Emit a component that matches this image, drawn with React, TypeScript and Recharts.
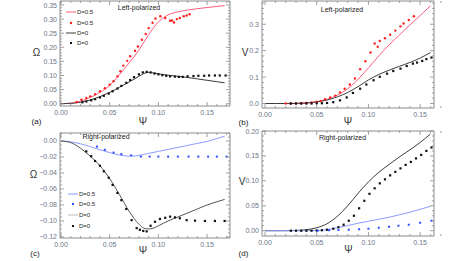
import React from "react";
import { ComposedChart, Line, Scatter, XAxis, YAxis } from "recharts";

// ---- data ----
// (a) Left-polarized, Omega vs Psi
const aRedLinePsi = [0, 0.01, 0.02, 0.03, 0.04, 0.05, 0.06, 0.07, 0.08, 0.09, 0.1, 0.11, 0.12, 0.13, 0.14, 0.15, 0.16, 0.168];
const aRedLineVal = [0, 0.002, 0.009, 0.022, 0.04, 0.065, 0.103, 0.145, 0.19, 0.245, 0.29, 0.315, 0.326, 0.332, 0.337, 0.341, 0.345, 0.348];
const aRedDotPsi = [0.016, 0.021, 0.026, 0.03, 0.035, 0.04, 0.045, 0.05, 0.054, 0.058, 0.061, 0.064, 0.068, 0.071, 0.076, 0.079, 0.083, 0.087, 0.09, 0.094, 0.097, 0.102, 0.107, 0.112, 0.114, 0.116, 0.119, 0.122, 0.126, 0.129, 0.132];
const aRedDotVal = [0.006, 0.014, 0.02, 0.026, 0.034, 0.044, 0.055, 0.067, 0.08, 0.097, 0.115, 0.135, 0.152, 0.168, 0.188, 0.203, 0.227, 0.247, 0.268, 0.287, 0.302, 0.31, 0.304, 0.294, 0.295, 0.288, 0.3, 0.304, 0.31, 0.313, 0.317];
const aBlackLinePsi = [0, 0.01, 0.02, 0.03, 0.04, 0.05, 0.06, 0.07, 0.08, 0.085, 0.09, 0.095, 0.1, 0.11, 0.12, 0.13, 0.14, 0.15, 0.16, 0.168];
const aBlackLineVal = [0, 0.001, 0.005, 0.013, 0.025, 0.04, 0.058, 0.077, 0.097, 0.107, 0.111, 0.109, 0.106, 0.101, 0.097, 0.093, 0.088, 0.083, 0.078, 0.074];
const aBlackDotPsi = [0.022, 0.026, 0.031, 0.035, 0.04, 0.044, 0.049, 0.053, 0.058, 0.062, 0.067, 0.071, 0.075, 0.08, 0.084, 0.088, 0.092, 0.096, 0.1, 0.104, 0.108, 0.112, 0.117, 0.121, 0.125, 0.13, 0.136, 0.141, 0.147, 0.152, 0.158, 0.163, 0.169];
const aBlackDotVal = [0.005, 0.008, 0.012, 0.016, 0.022, 0.028, 0.036, 0.044, 0.054, 0.063, 0.074, 0.084, 0.094, 0.104, 0.111, 0.113, 0.111, 0.107, 0.104, 0.101, 0.099, 0.097, 0.096, 0.095, 0.095, 0.097, 0.098, 0.099, 0.099, 0.1, 0.1, 0.1, 0.1];

// (b) Left-polarized, V vs Psi
const bRedLinePsi = [0.02, 0.03, 0.04, 0.05, 0.06, 0.07, 0.08, 0.09, 0.1, 0.11, 0.12, 0.13, 0.14, 0.15, 0.16];
const bRedLineVal = [0, 0.0005, 0.002, 0.007, 0.016, 0.032, 0.056, 0.092, 0.135, 0.18, 0.222, 0.26, 0.297, 0.333, 0.37];
const bRedDotPsi = [0.02, 0.025, 0.03, 0.035, 0.04, 0.045, 0.05, 0.054, 0.058, 0.063, 0.068, 0.0725, 0.077, 0.082, 0.087, 0.092, 0.097, 0.102, 0.106, 0.109, 0.111, 0.116, 0.121, 0.126, 0.131, 0.134, 0.139, 0.144];
const bRedDotVal = [0, 0, 0.0005, 0.001, 0.002, 0.004, 0.007, 0.01, 0.016, 0.023, 0.03, 0.042, 0.056, 0.072, 0.095, 0.13, 0.16, 0.193, 0.227, 0.215, 0.237, 0.247, 0.26, 0.276, 0.292, 0.303, 0.316, 0.33];
const bBlackLinePsi = [0, 0.01, 0.02, 0.03, 0.04, 0.05, 0.06, 0.07, 0.08, 0.09, 0.1, 0.11, 0.12, 0.13, 0.14, 0.15, 0.16];
const bBlackLineVal = [0, 0, 0, 0.0005, 0.002, 0.006, 0.013, 0.025, 0.042, 0.064, 0.089, 0.11, 0.126, 0.141, 0.155, 0.172, 0.193];
const bBlackDotPsi = [0.025, 0.03, 0.035, 0.04, 0.045, 0.05, 0.055, 0.06, 0.066, 0.0725, 0.079, 0.085, 0.092, 0.098, 0.105, 0.111, 0.118, 0.124, 0.131, 0.137, 0.143, 0.147, 0.152, 0.156, 0.161];
const bBlackDotVal = [0, 0, 0, 0, 0, 0.001, 0.001, 0.002, 0.005, 0.012, 0.023, 0.04, 0.056, 0.072, 0.088, 0.101, 0.113, 0.123, 0.132, 0.142, 0.151, 0.155, 0.161, 0.168, 0.174];

// (c) Right-polarized, Omega vs Psi
const cBlueLinePsi = [0, 0.01, 0.02, 0.03, 0.04, 0.05, 0.06, 0.07, 0.08, 0.09, 0.1, 0.11, 0.12, 0.13, 0.14, 0.15, 0.16, 0.168];
const cBlueLineVal = [0, -0.001, -0.0035, -0.007, -0.011, -0.0145, -0.0175, -0.019, -0.018, -0.0155, -0.013, -0.0105, -0.008, -0.0055, -0.003, -0.0005, 0.003, 0.006];
const cBlueDotPsi = [0.037, 0.045, 0.054, 0.062, 0.072, 0.082, 0.091, 0.1, 0.11, 0.12, 0.131, 0.141, 0.151, 0.16, 0.17];
const cBlueDotVal = [-0.007, -0.011, -0.0145, -0.0165, -0.018, -0.0195, -0.0195, -0.0195, -0.0195, -0.0195, -0.0195, -0.0195, -0.0195, -0.0195, -0.0195];
const cBlackLinePsi = [0, 0.01, 0.02, 0.03, 0.04, 0.05, 0.06, 0.07, 0.08, 0.085, 0.09, 0.095, 0.1, 0.11, 0.12, 0.13, 0.14, 0.15, 0.16, 0.168];
const cBlackLineVal = [0, -0.002, -0.009, -0.019, -0.031, -0.047, -0.067, -0.088, -0.104, -0.109, -0.11, -0.109, -0.106, -0.1, -0.095, -0.09, -0.085, -0.08, -0.076, -0.073];
const cBlackDotPsi = [0.026, 0.031, 0.035, 0.04, 0.044, 0.049, 0.053, 0.058, 0.062, 0.067, 0.0725, 0.0777, 0.081, 0.0845, 0.088, 0.092, 0.0965, 0.1016, 0.107, 0.112, 0.117, 0.122, 0.129, 0.1376, 0.1478, 0.158, 0.168];
const cBlackDotVal = [-0.013, -0.019, -0.025, -0.031, -0.038, -0.046, -0.055, -0.065, -0.074, -0.085, -0.099, -0.109, -0.111, -0.1125, -0.113, -0.106, -0.101, -0.0975, -0.096, -0.0946, -0.0955, -0.0966, -0.099, -0.0996, -0.1, -0.1, -0.1];

// (d) Right-polarized, V vs Psi
const dBlackLinePsi = [0, 0.01, 0.02, 0.03, 0.04, 0.05, 0.06, 0.07, 0.08, 0.09, 0.1, 0.11, 0.12, 0.13, 0.14, 0.15, 0.16];
const dBlackLineVal = [0, 0, 0, 0.0005, 0.002, 0.006, 0.014, 0.029, 0.05, 0.075, 0.098, 0.117, 0.133, 0.148, 0.162, 0.177, 0.194];
const dBlackDotPsi = [0.025, 0.03, 0.035, 0.04, 0.045, 0.05, 0.055, 0.06, 0.066, 0.071, 0.076, 0.081, 0.086, 0.091, 0.096, 0.101, 0.106, 0.111, 0.116, 0.121, 0.126, 0.131, 0.136, 0.141, 0.146, 0.151, 0.156, 0.161];
const dBlackDotVal = [0, 0, 0, 0, 0, 0.0005, 0.001, 0.002, 0.004, 0.007, 0.012, 0.02, 0.03, 0.045, 0.06, 0.074, 0.085, 0.095, 0.103, 0.111, 0.118, 0.125, 0.132, 0.138, 0.145, 0.152, 0.16, 0.167];
const dBlueLinePsi = [0, 0.04, 0.05, 0.06, 0.07, 0.08, 0.09, 0.1, 0.11, 0.12, 0.13, 0.14, 0.15, 0.16];
const dBlueLineVal = [0, 0, 0.0005, 0.002, 0.006, 0.0105, 0.015, 0.019, 0.023, 0.027, 0.032, 0.037, 0.043, 0.049];
const dBlueDotPsi = [0.051, 0.062, 0.071, 0.081, 0.091, 0.1, 0.11, 0.12, 0.129, 0.139, 0.15, 0.161];
const dBlueDotVal = [0, 0.001, 0.0015, 0.002, 0.003, 0.004, 0.006, 0.008, 0.01, 0.012, 0.016, 0.02];

// ticks
const psiMajor = [0, 0.05, 0.1, 0.15];
const aMajor = [0, 0.05, 0.1, 0.15, 0.2, 0.25, 0.3, 0.35];
const bMajor = [0, 0.1, 0.2, 0.3];
const cMajor = [0, -0.02, -0.04, -0.06, -0.08, -0.1, -0.12];
const dMajor = [0, 0.05, 0.1, 0.15, 0.2];

const FONT = '"Liberation Sans", Arial, sans-serif';
const TICK = "#6b7686";
const FRAME = "#8c8c8c";
const RED_LINE = "#ff5c7c";
const RED_DOT = "#ff1f1f";
const BLACK_LINE = "#3c3c3c";
const GRAY_LINE = "#555555";
const BLUE_LINE = "#8a9bff";
const BLUE_DOT = "#2e4dff";

type Pt = { x: number; y: number };
const zip = (xs: number[], ys: number[]): Pt[] => xs.map((x, i) => ({ x, y: ys[i] }));

const steps = (from: number, to: number, step: number): number[] => {
  const out: number[] = [];
  for (let v = from; v <= to + 1e-9; v += step) out.push(+v.toFixed(4));
  return out;
};

type Side = "bottom" | "left" | "top" | "right";

const makeTick = (side: Side, major: number[], fmt?: (v: number) => string) => (props: any) => {
  const { x, y, payload } = props;
  const v: number = payload.value;
  const isMajor = major.some((m) => Math.abs(m - v) < 1e-6);
  const len = isMajor ? 4 : 2;
  let l = { x1: x, y1: y, x2: x, y2: y };
  if (side === "bottom") l = { x1: x, y1: y, x2: x, y2: y - len };
  if (side === "top") l = { x1: x, y1: y, x2: x, y2: y + len };
  if (side === "left") l = { x1: x, y1: y, x2: x + len, y2: y };
  if (side === "right") l = { x1: x, y1: y, x2: x - len, y2: y };
  return (
    <g>
      <line {...l} stroke={FRAME} strokeWidth={0.8} />
      {isMajor && fmt && side === "bottom" && (
        <text x={x} y={y + 8.5} textAnchor="middle" fontSize={7} fill={TICK} fontFamily={FONT}>
          {fmt(v)}
        </text>
      )}
      {isMajor && fmt && side === "left" && (
        <text x={x - 3} y={y + 2.5} textAnchor="end" fontSize={7} fill={TICK} fontFamily={FONT}>
          {fmt(v)}
        </text>
      )}
    </g>
  );
};

const fmt2 = (v: number) => (v < -1e-9 ? "\u2212" : "") + Math.abs(v).toFixed(2);
const fmt1 = (v: number) => v.toFixed(1);

type Series = { kind: "line" | "dots"; data: Pt[]; color: string; shape?: "circle" | "square"; size?: number };

type PanelProps = {
  left: number;
  top: number;
  width: number;
  height: number;
  marginTop: number;
  marginRight: number;
  yWidth: number;
  xHeight: number;
  xDomain: [number, number];
  yDomain: [number, number];
  yTicks: number[];
  yMajor: number[];
  yFmt: (v: number) => string;
  series: Series[];
};

const xTicks = steps(0, 0.17, 0.01);

const Panel = (p: PanelProps) => {
  const axisCommon = {
    type: "number" as const,
    interval: 0 as const,
    tickLine: false,
    tickSize: 0,
    tickMargin: 0,
    axisLine: { stroke: FRAME, strokeWidth: 1 },
    allowDataOverflow: true,
  };
  return (
    <div style={{ position: "absolute", left: p.left, top: p.top }}>
      <ComposedChart
        width={p.width}
        height={p.height}
        margin={{ top: p.marginTop, right: p.marginRight, bottom: 0, left: 0 }}
      >
        <XAxis {...axisCommon} dataKey="x" domain={p.xDomain} ticks={xTicks} height={p.xHeight} tick={makeTick("bottom", psiMajor, fmt2)} />
        <XAxis {...axisCommon} xAxisId="top" orientation="top" dataKey="x" domain={p.xDomain} ticks={xTicks} height={1} tick={makeTick("top", psiMajor)} />
        <YAxis {...axisCommon} dataKey="y" domain={p.yDomain} ticks={p.yTicks} width={p.yWidth} tick={makeTick("left", p.yMajor, p.yFmt)} />
        <YAxis {...axisCommon} yAxisId="right" orientation="right" dataKey="y" domain={p.yDomain} ticks={p.yTicks} width={1} tick={makeTick("right", p.yMajor)} />
        {p.series.map((s, i) =>
          s.kind === "line" ? (
            <Line
              key={i}
              data={s.data}
              dataKey="y"
              type="monotone"
              stroke={s.color}
              strokeWidth={1}
              dot={false}
              activeDot={false}
              isAnimationActive={false}
            />
          ) : (
            <Scatter
              key={i}
              data={s.data}
              dataKey="y"
              isAnimationActive={false}
              shape={(q: any) =>
                s.shape === "circle" ? (
                  <circle cx={q.cx} cy={q.cy} r={(s.size ?? 2.4) / 2} fill={s.color} />
                ) : (
                  <rect
                    x={q.cx - (s.size ?? 2.4) / 2}
                    y={q.cy - (s.size ?? 2.4) / 2}
                    width={s.size ?? 2.4}
                    height={s.size ?? 2.4}
                    fill={s.color}
                  />
                )
              }
            />
          )
        )}
      </ComposedChart>
    </div>
  );
};

const Label = ({ x, y, children, size = 7, color = "#222", anchor = "center" }: any) => (
  <div
    style={{
      position: "absolute",
      left: x,
      top: y,
      transform: `translate(${anchor === "left" ? "0" : "-50%"}, -50%)`,
      fontFamily: FONT,
      fontSize: size,
      color,
      whiteSpace: "nowrap",
      lineHeight: 1,
    }}
  >
    {children}
  </div>
);

const LegendRow = ({ x, y, kind, color, text }: { x: number; y: number; kind: "line" | "circle" | "square"; color: string; text: string }) => (
  <div style={{ position: "absolute", left: x, top: y - 4, height: 8, display: "flex", alignItems: "center" }}>
    <svg width={11} height={8}>
      {kind === "line" && <line x1={0} y1={4} x2={10} y2={4} stroke={color} strokeWidth={1} />}
      {kind === "circle" && <circle cx={5} cy={4} r={1.2} fill={color} />}
      {kind === "square" && <rect x={4} y={3} width={2} height={2} fill={color} />}
    </svg>
    <span style={{ fontFamily: FONT, fontSize: 6, color: "#222" }}>{text}</span>
  </div>
);

export default function App() {
  return (
    <div style={{ position: "absolute", left: 0, top: 0, width: 463, height: 261, background: "#fff", overflow: "hidden" }}>
      <Panel
        left={0}
        top={0}
        width={232}
        height={130}
        marginTop={0}
        marginRight={1}
        yWidth={60}
        xHeight={24}
        xDomain={[-0.001, 0.1735]}
        yDomain={[-0.0082, 0.3642]}
        yTicks={steps(0, 0.36, 0.01)}
        yMajor={aMajor}
        yFmt={fmt2}
        series={[
          { kind: "line", data: zip(aRedLinePsi, aRedLineVal), color: RED_LINE },
          { kind: "line", data: zip(aBlackLinePsi, aBlackLineVal), color: BLACK_LINE },
          { kind: "dots", data: zip(aRedDotPsi, aRedDotVal), color: RED_DOT, shape: "circle", size: 2.4 },
          { kind: "dots", data: zip(aBlackDotPsi, aBlackDotVal), color: "#111", shape: "square", size: 2.2 },
        ]}
      />
      <Panel
        left={232}
        top={0}
        width={231}
        height={130}
        marginTop={0}
        marginRight={28}
        yWidth={30}
        xHeight={22}
        xDomain={[-0.0029, 0.1634]}
        yDomain={[-0.017, 0.388]}
        yTicks={steps(0, 0.38, 0.02)}
        yMajor={bMajor}
        yFmt={fmt1}
        series={[
          { kind: "line", data: zip(bRedLinePsi, bRedLineVal), color: RED_LINE },
          { kind: "line", data: zip(bBlackLinePsi, bBlackLineVal), color: BLACK_LINE },
          { kind: "dots", data: zip(bRedDotPsi, bRedDotVal), color: RED_DOT, shape: "circle", size: 2.4 },
          { kind: "dots", data: zip(bBlackDotPsi, bBlackDotVal), color: "#111", shape: "square", size: 2.2 },
        ]}
      />
      <Panel
        left={0}
        top={130}
        width={232}
        height={131}
        marginTop={2}
        marginRight={1}
        yWidth={60}
        xHeight={23}
        xDomain={[-0.001, 0.1735]}
        yDomain={[-0.1213, 0.01]}
        yTicks={steps(-0.12, 0.01, 0.005)}
        yMajor={cMajor}
        yFmt={fmt2}
        series={[
          { kind: "line", data: zip(cBlueLinePsi, cBlueLineVal), color: BLUE_LINE },
          { kind: "line", data: zip(cBlackLinePsi, cBlackLineVal), color: GRAY_LINE },
          { kind: "dots", data: zip(cBlueDotPsi, cBlueDotVal), color: BLUE_DOT, shape: "square", size: 2 },
          { kind: "dots", data: zip(cBlackDotPsi, cBlackDotVal), color: "#111", shape: "square", size: 2.2 },
        ]}
      />
      <Panel
        left={232}
        top={126}
        width={231}
        height={135}
        marginTop={4}
        marginRight={28}
        yWidth={30}
        xHeight={25}
        xDomain={[-0.0029, 0.1634]}
        yDomain={[-0.0106, 0.2]}
        yTicks={steps(0, 0.2, 0.01)}
        yMajor={dMajor}
        yFmt={fmt2}
        series={[
          { kind: "line", data: zip(dBlackLinePsi, dBlackLineVal), color: BLACK_LINE },
          { kind: "line", data: zip(dBlueLinePsi, dBlueLineVal), color: BLUE_LINE },
          { kind: "dots", data: zip(dBlackDotPsi, dBlackDotVal), color: "#111", shape: "square", size: 2.2 },
          { kind: "dots", data: zip(dBlueDotPsi, dBlueDotVal), color: BLUE_DOT, shape: "square", size: 2 },
        ]}
      />

      <Label x={139} y={7} size={7}>Left-polarized</Label>
      <Label x={342} y={8.5} size={7}>Left-polarized</Label>
      <Label x={106} y={135.5} size={7}>Right-polarized</Label>
      <Label x={342.5} y={137} size={7}>Right-polarized</Label>

      <Label x={36.5} y={53} size={10} color="#333">Ω</Label>
      <Label x={33.5} y={175} size={10} color="#333">Ω</Label>
      <Label x={245} y={53} size={10} color="#333">V</Label>
      <Label x={242} y={182} size={10} color="#333">V</Label>

      <Label x={143} y={122} size={10} color="#333">Ψ</Label>
      <Label x={348} y={122} size={10} color="#333">Ψ</Label>
      <Label x={143} y={251} size={10} color="#333">Ψ</Label>
      <Label x={348.5} y={250} size={10} color="#333">Ψ</Label>

      <Label x={36.5} y={122} size={8}>(a)</Label>
      <Label x={243.5} y={123} size={8}>(b)</Label>
      <Label x={35} y={254} size={8}>(c)</Label>
      <Label x={243.5} y={254} size={8}>(d)</Label>

      <LegendRow x={66} y={12.3} kind="line" color={RED_LINE} text="D=0.5" />
      <LegendRow x={66} y={22.7} kind="circle" color={RED_DOT} text="D=0.5" />
      <LegendRow x={66} y={32.7} kind="line" color={BLACK_LINE} text="D=0" />
      <LegendRow x={66} y={42.7} kind="square" color="#111" text="D=0" />

      <LegendRow x={68} y={194.3} kind="line" color={BLUE_LINE} text="D=0.5" />
      <LegendRow x={68} y={204.3} kind="square" color={BLUE_DOT} text="D=0.5" />
      <LegendRow x={68} y={215} kind="line" color="#bbbbbb" text="D=0" />
      <LegendRow x={68} y={225.7} kind="square" color="#111" text="D=0" />
    </div>
  );
}
